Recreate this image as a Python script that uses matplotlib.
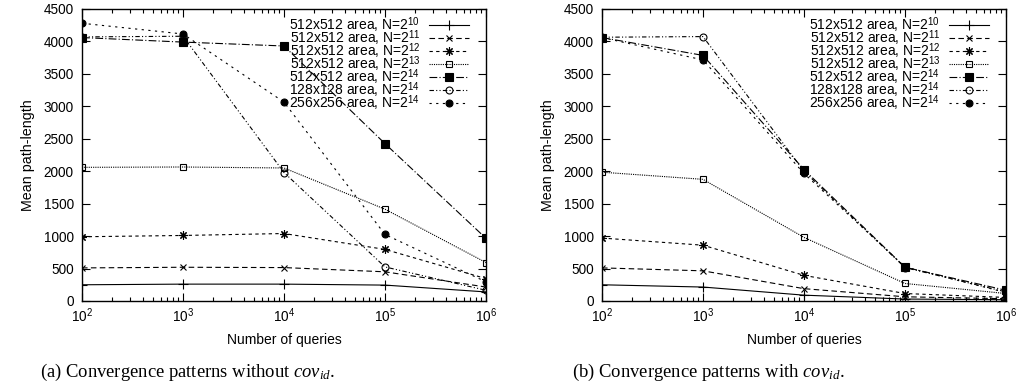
import matplotlib
matplotlib.use("Agg")
import matplotlib.pyplot as plt
from matplotlib.ticker import LogLocator, NullFormatter

plt.rcParams['font.family'] = ['Liberation Sans', 'DejaVu Sans']
plt.rcParams['mathtext.fontset'] = 'custom'
plt.rcParams['mathtext.rm'] = 'Liberation Sans'
plt.rcParams['mathtext.it'] = 'Liberation Serif:italic'
plt.rcParams['mathtext.bf'] = 'Liberation Sans:bold'

queries = [1e2, 1e3, 1e4, 1e5, 1e6]

labels = [
    r'512x512 area, N=2$^{\mathdefault{10}}$',
    r'512x512 area, N=2$^{\mathdefault{11}}$',
    r'512x512 area, N=2$^{\mathdefault{12}}$',
    r'512x512 area, N=2$^{\mathdefault{13}}$',
    r'512x512 area, N=2$^{\mathdefault{14}}$',
    r'128x128 area, N=2$^{\mathdefault{14}}$',
    r'256x256 area, N=2$^{\mathdefault{14}}$',
]

# (a) without cov_id
a_n10 = [250, 260, 260, 245, 140]
a_n11 = [510, 520, 515, 450, 215]
a_n12 = [990, 1010, 1040, 795, 345]
a_n13 = [2060, 2065, 2050, 1415, 592]
a_n14 = [4060, 3990, 3930, 2425, 965]
a_128 = [4070, 4080, 1980, 525, 165]
a_256 = [4280, 4115, 3065, 1025, 295]

# (b) with cov_id
b_n10 = [250, 215, 90, 30, 20]
b_n11 = [510, 465, 190, 65, 35]
b_n12 = [970, 860, 395, 115, 55]
b_n13 = [1985, 1875, 980, 270, 115]
b_n14 = [4060, 3785, 2025, 520, 165]
b_128 = [4065, 4075, 2000, 515, 140]
b_256 = [4060, 3715, 1965, 525, 130]

yticks = [0, 500, 1000, 1500, 2000, 2500, 3000, 3500, 4000, 4500]

styles = [
    dict(ls='-', marker='+', ms=6.5, mfc='none'),
    dict(ls=(0, (5, 3)), marker='x', ms=5, mfc='none'),
    dict(ls=(0, (3, 3)), marker=(8, 2, 0), ms=6, mfc='none'),
    dict(ls=(0, (1, 1)), marker='s', ms=5, mfc='none'),
    dict(ls=(0, (7, 2, 1, 2)), marker='s', ms=6, mfc='black'),
    dict(ls=(0, (4, 2, 1, 2, 1, 2)), marker='o', ms=5, mfc='none'),
    dict(ls=(0, (2, 4)), marker='o', ms=5, mfc='black'),
]

fig = plt.figure(figsize=(10.18, 3.92), dpi=100)
ax1 = fig.add_axes([82/1018, 1-301/392, 404/1018, 292/392])
ax2 = fig.add_axes([602/1018, 1-301/392, 404/1018, 292/392])

for ax, series, cap in [
    (ax1, [a_n10, a_n11, a_n12, a_n13, a_n14, a_128, a_256],
     r'(a) Convergence patterns without $cov_{id}$.'),
    (ax2, [b_n10, b_n11, b_n12, b_n13, b_n14, b_128, b_256],
     r'(b) Convergence patterns with $cov_{id}$.'),
]:
    for vals, lab, st in zip(series, labels, styles):
        ax.plot(queries, vals, color='black', lw=0.8, mec='black', mew=0.8,
                label=lab, **st)
    ax.set_xscale('log')
    ax.set_xlim(1e2, 1e6)
    ax.set_ylim(0, 4500)
    ax.set_yticks(yticks)
    ax.xaxis.set_major_locator(LogLocator(base=10, numticks=10))
    ax.xaxis.set_minor_locator(LogLocator(base=10, subs=range(2, 10), numticks=50))
    ax.xaxis.set_minor_formatter(NullFormatter())
    ax.tick_params(which='both', direction='in', top=True, right=True, labelsize=9.8, width=0.8)
    ax.tick_params(which='major', length=6)
    ax.tick_params(which='minor', length=3)
    ax.tick_params(axis='y', pad=6)
    ax.tick_params(axis='x', pad=4)
    for s in ax.spines.values():
        s.set_linewidth(1.0)
    ax.set_ylabel('Mean path-length', fontsize=10.3, labelpad=6)
    ax.set_xlabel('Number of queries', fontsize=10, labelpad=6)
    leg = ax.legend(loc='upper right', frameon=False, markerfirst=False,
                    fontsize=10, handlelength=2.9, handletextpad=0.6,
                    labelspacing=-0.5, borderaxespad=0.0, borderpad=0.0,
                    bbox_to_anchor=(1 - 17/404, 1 - 6/292))
    bb = ax.get_position()
    fig.text(bb.x0 + bb.width/2 - 96/1018, 1 - 372/392, cap, ha='center', va='center',
             fontsize=13.4, family='Liberation Serif')

fig.savefig('out.png', dpi=100)
